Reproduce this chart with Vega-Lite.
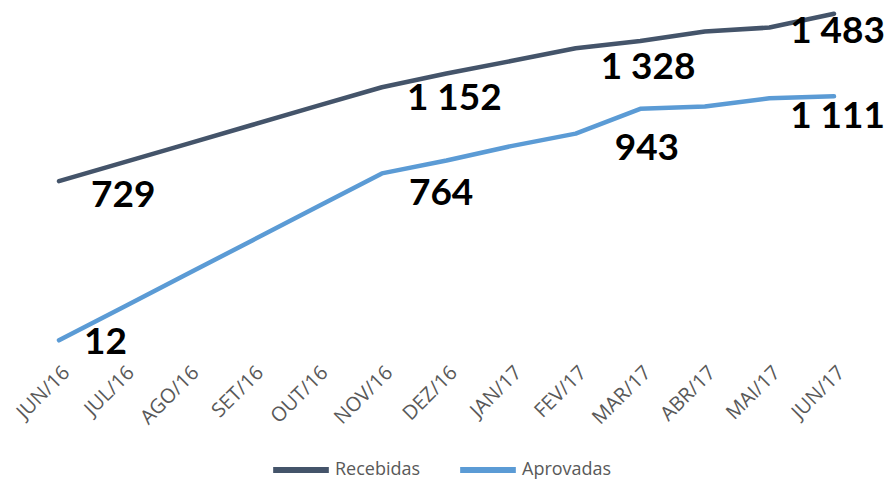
{
  "$schema": "https://vega.github.io/schema/vega-lite/v6.json",
  "autosize": {"type": "none"},
  "width": 775,
  "height": 333,
  "padding": {"left": 59, "top": 10, "right": 55, "bottom": 137},
  "config": {
    "view": {"stroke": null},
    "locale": {"number": {"decimal": ",", "thousands": " ", "grouping": [3], "currency": ["R$", ""]}},
    "font": "Open Sans",
    "text": {"font": "Lato", "fontWeight": "bold", "fontSize": 37, "color": "#000000", "baseline": "middle"}
  },
  "data": {
    "values": [
      {"mes": "JUN/16", "serie": "Recebidas", "valor": 729},
      {"mes": "JUL/16", "serie": "Recebidas", "valor": 814},
      {"mes": "AGO/16", "serie": "Recebidas", "valor": 898},
      {"mes": "SET/16", "serie": "Recebidas", "valor": 983},
      {"mes": "OUT/16", "serie": "Recebidas", "valor": 1068},
      {"mes": "NOV/16", "serie": "Recebidas", "valor": 1152},
      {"mes": "DEZ/16", "serie": "Recebidas", "valor": 1214},
      {"mes": "JAN/17", "serie": "Recebidas", "valor": 1270},
      {"mes": "FEV/17", "serie": "Recebidas", "valor": 1328},
      {"mes": "MAR/17", "serie": "Recebidas", "valor": 1360},
      {"mes": "ABR/17", "serie": "Recebidas", "valor": 1403},
      {"mes": "MAI/17", "serie": "Recebidas", "valor": 1421},
      {"mes": "JUN/17", "serie": "Recebidas", "valor": 1483},
      {"mes": "JUN/16", "serie": "Aprovadas", "valor": 12},
      {"mes": "JUL/16", "serie": "Aprovadas", "valor": 162},
      {"mes": "AGO/16", "serie": "Aprovadas", "valor": 313},
      {"mes": "SET/16", "serie": "Aprovadas", "valor": 463},
      {"mes": "OUT/16", "serie": "Aprovadas", "valor": 614},
      {"mes": "NOV/16", "serie": "Aprovadas", "valor": 764},
      {"mes": "DEZ/16", "serie": "Aprovadas", "valor": 822},
      {"mes": "JAN/17", "serie": "Aprovadas", "valor": 887},
      {"mes": "FEV/17", "serie": "Aprovadas", "valor": 943},
      {"mes": "MAR/17", "serie": "Aprovadas", "valor": 1055},
      {"mes": "ABR/17", "serie": "Aprovadas", "valor": 1065},
      {"mes": "MAI/17", "serie": "Aprovadas", "valor": 1102},
      {"mes": "JUN/17", "serie": "Aprovadas", "valor": 1111}
    ]
  },
  "encoding": {
    "x": {
      "field": "mes", "type": "ordinal",
      "sort": ["JUN/16","JUL/16","AGO/16","SET/16","OUT/16","NOV/16","DEZ/16","JAN/17","FEV/17","MAR/17","ABR/17","MAI/17","JUN/17"],
      "scale": {"type": "point", "padding": 0},
      "axis": {
        "title": null, "domain": false, "ticks": false, "grid": false,
        "labelAngle": -45, "labelAlign": "right", "labelBaseline": "top",
        "labelPadding": 19, "labelFont": "Open Sans", "labelFontSize": 20,
        "labelColor": "#595959", "labelOverlap": false
      }
    },
    "y": {
      "field": "valor", "type": "quantitative",
      "scale": {"domain": [0, 1500], "nice": false},
      "axis": null
    },
    "text": {"field": "valor", "type": "quantitative", "format": ",d"}
  },
  "layer": [
    {
      "mark": {"type": "line", "strokeWidth": 4.5, "strokeCap": "round", "strokeJoin": "round"},
      "encoding": {
        "text": null,
        "color": {
          "field": "serie", "type": "nominal",
          "scale": {"domain": ["Recebidas", "Aprovadas"], "range": ["#44546A", "#5B9BD5"]},
          "legend": {
            "title": null, "orient": "none", "direction": "horizontal",
            "legendX": 211, "legendY": 429,
            "symbolType": "stroke", "symbolSize": 3100, "symbolStrokeWidth": 6,
            "labelFont": "Open Sans", "labelFontSize": 18, "labelColor": "#595959",
            "labelOffset": 3, "columnPadding": 27
          }
        }
      }
    },
    {
      "transform": [{"filter": {"and": [{"field": "mes", "equal": "JUN/16"}, {"field": "serie", "equal": "Recebidas"}]}}],
      "mark": {"type": "text", "align": "left", "dx": 32, "dy": 15}
    },
    {
      "transform": [{"filter": {"and": [{"field": "mes", "equal": "JUN/16"}, {"field": "serie", "equal": "Aprovadas"}]}}],
      "mark": {"type": "text", "align": "left", "dx": 25, "dy": 3}
    },
    {
      "transform": [{"filter": {"and": [{"field": "mes", "equal": "NOV/16"}, {"field": "serie", "equal": "Recebidas"}]}}],
      "mark": {"type": "text", "align": "left", "dx": 25, "dy": 12}
    },
    {
      "transform": [{"filter": {"and": [{"field": "mes", "equal": "NOV/16"}, {"field": "serie", "equal": "Aprovadas"}]}}],
      "mark": {"type": "text", "align": "left", "dx": 27, "dy": 21}
    },
    {
      "transform": [{"filter": {"and": [{"field": "mes", "equal": "FEV/17"}, {"field": "serie", "equal": "Recebidas"}]}}],
      "mark": {"type": "text", "align": "left", "dx": 25, "dy": 20}
    },
    {
      "transform": [{"filter": {"and": [{"field": "mes", "equal": "FEV/17"}, {"field": "serie", "equal": "Aprovadas"}]}}],
      "mark": {"type": "text", "align": "left", "dx": 39, "dy": 15}
    },
    {
      "transform": [{"filter": {"and": [{"field": "mes", "equal": "JUN/17"}, {"field": "serie", "equal": "Recebidas"}]}}],
      "mark": {"type": "text", "align": "right", "dx": 51, "dy": 18}
    },
    {
      "transform": [{"filter": {"and": [{"field": "mes", "equal": "JUN/17"}, {"field": "serie", "equal": "Aprovadas"}]}}],
      "mark": {"type": "text", "align": "right", "dx": 51, "dy": 21}
    }
  ]
}
